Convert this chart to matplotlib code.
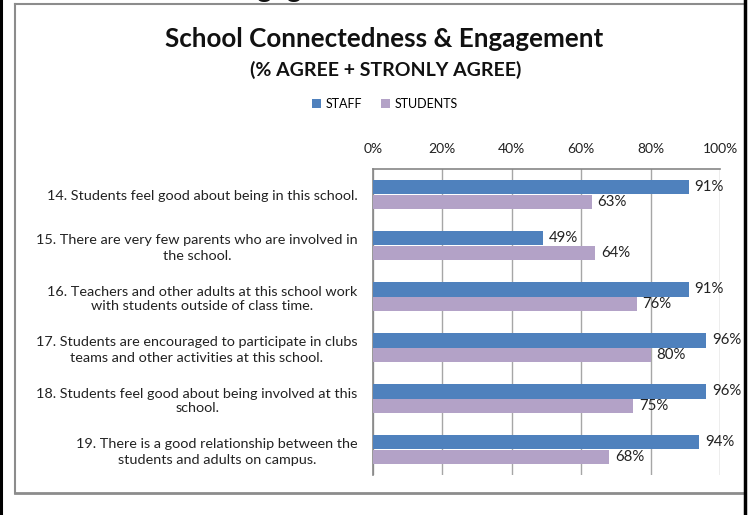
import matplotlib
matplotlib.use("Agg")
import matplotlib.pyplot as plt
from matplotlib.patches import Patch
from matplotlib.lines import Line2D

plt.rcParams['font.family'] = ['Lato', 'DejaVu Sans']

# Survey items (top to bottom)
items = [
    "14. Students feel good about being in this school.",
    "15. There are very few parents who are involved in\nthe school.",
    "16. Teachers and other adults at this school work\nwith students outside of class time.",
    "17. Students are encouraged to participate in clubs\nteams and other activities at this school.",
    "18. Students feel good about being involved at this\nschool.",
    "19. There is a good relationship between the\nstudents and adults on campus.",
]
staff = [91, 49, 91, 96, 96, 94]
students = [63, 64, 76, 80, 75, 68]
x_ticks = [0, 20, 40, 60, 80, 100]
x_tick_labels = ["0%", "20%", "40%", "60%", "80%", "100%"]
series_names = ["STAFF", "STUDENTS"]

STAFF_COLOR = "#4F81BD"
STUDENT_COLOR = "#B3A2C7"
W, H = 750, 515

fig = plt.figure(figsize=(W / 100, H / 100), dpi=100)
fig.patch.set_facecolor("white")

def fx(px):
    return px / W

def fy(py):
    return 1 - py / H

ax = fig.add_axes([fx(373), fy(475), fx(720) - fx(373), fy(169) - fy(475)])

bar_h = 0.294
pos = list(range(len(items)))
ax.barh([p - bar_h / 2 for p in pos], staff, height=bar_h, color=STAFF_COLOR, zorder=3)
ax.barh([p + bar_h / 2 for p in pos], students, height=bar_h, color=STUDENT_COLOR, zorder=3)

gap = 1.7
for p, v in zip(pos, staff):
    ax.text(v + gap, p - bar_h / 2, f"{v}%", va="center", ha="left", fontsize=10.8, color="#222222", zorder=4)
for p, v in zip(pos, students):
    ax.text(v + gap, p + bar_h / 2, f"{v}%", va="center", ha="left", fontsize=10.8, color="#222222", zorder=4)

ax.set_xlim(0, 100)
ax.set_ylim(len(items) - 0.5, -0.5)
ax.xaxis.tick_top()
ax.set_xticks(x_ticks)
ax.set_xticklabels(x_tick_labels, fontsize=10, color="#222222")
ax.tick_params(axis="x", length=0, pad=10)
ax.set_yticks(pos)
ax.set_yticklabels(items, fontsize=10.4, color="#222222", linespacing=1.3)
for t in ax.get_yticklabels():
    t.set_multialignment("center")
ax.tick_params(axis="y", length=0, pad=11)

ax.grid(axis="x", color="#A6A6A6", linewidth=1, zorder=0)
for side in ("right", "bottom"):
    ax.spines[side].set_visible(False)
for side in ("left", "top"):
    ax.spines[side].set_color("#868686")
    ax.spines[side].set_linewidth(1.2)

# Titles
fig.text(fx(384), fy(47), "School Connectedness & Engagement", ha="center", va="baseline",
         fontsize=18.7, fontweight="bold", color="#111111")
fig.text(fx(386), fy(76), "(% AGREE + STRONLY AGREE)", ha="center", va="baseline",
         fontsize=14, fontweight="bold", color="#111111")

# Legend
handles = [Patch(facecolor=STAFF_COLOR), Patch(facecolor=STUDENT_COLOR)]
fig.legend(handles, series_names, loc="center", bbox_to_anchor=(fx(385), fy(104)),
           ncol=2, frameon=False, fontsize=9, handlelength=0.7, handleheight=0.7,
           handletextpad=0.4, columnspacing=1.5)

# Heading text running off the top edge
fig.text(fx(224), fy(-3), "Engagement", ha="left", va="baseline", fontsize=21, color="#111111")

# Chart frame
frame = "#8C8C8C"
fig.add_artist(Line2D([fx(15), fx(15)], [fy(4), fy(493)], color=frame, lw=1.5))
fig.add_artist(Line2D([fx(15), fx(743)], [fy(4), fy(4)], color=frame, lw=1.5))
fig.add_artist(Line2D([fx(15), fx(743)], [fy(493), fy(493)], color=frame, lw=2))
fig.add_artist(Line2D([fx(1), fx(1)], [0, 1], color="black", lw=2.2))
fig.add_artist(Line2D([fx(744.5), fx(744.5)], [0, 1], color="black", lw=2.5))

fig.savefig("out.png", dpi=100, facecolor="white")
